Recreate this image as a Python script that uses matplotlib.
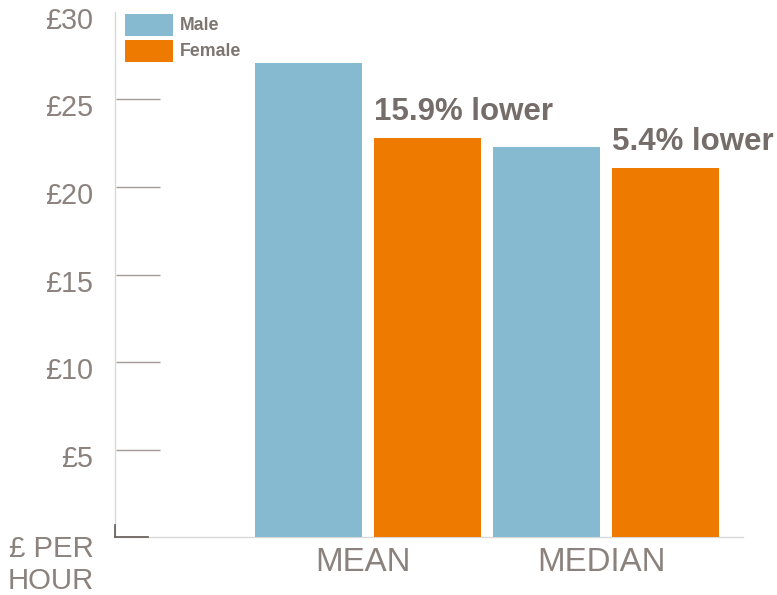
import matplotlib
matplotlib.use("Agg")
import matplotlib.pyplot as plt
from matplotlib.transforms import offset_copy
from matplotlib.patches import Rectangle

plt.rcParams['font.family'] = ['Liberation Sans', 'DejaVu Sans']

# Hourly pay data
categories = ["MEAN", "MEDIAN"]
series_names = ["Male", "Female"]
male_pay = [27.1, 22.3]
female_pay = [22.8, 21.1]
gap_labels = ["15.9% lower", "5.4% lower"]
y_ticks = [5, 10, 15, 20, 25, 30]
y_tick_labels = ["£5", "£10", "£15", "£20", "£25", "£30"]
unit_label = "£ PER\nHOUR"

MALE_COLOR = "#85BAD0"
FEMALE_COLOR = "#EF7A00"
TEXT_GRAY = "#8b827d"
DARK_GRAY = "#756d69"

W, H = 777, 595
fig = plt.figure(figsize=(W / 100, H / 100), dpi=100)
ax = fig.add_axes([115 / W, (H - 537.3) / H, (743 - 115) / W, (537.3 - 11.7) / H])

group_x = list(range(len(categories)))
bar_w = 0.4496
offset = 0.25
male_x = [g - offset for g in group_x]
female_x = [g + offset for g in group_x]

ax.bar(male_x, male_pay, width=bar_w, color=MALE_COLOR, label=series_names[0], zorder=3)
ax.bar(female_x, female_pay, width=bar_w, color=FEMALE_COLOR, label=series_names[1], zorder=3)

ax.set_xlim(-1.063, 1.576)
ax.set_ylim(0, 30)

# spines
for s in ["top", "right"]:
    ax.spines[s].set_visible(False)
ax.spines["left"].set_color("#d9d9d9")
ax.spines["bottom"].set_color("#d9d9d9")
ax.spines["left"].set_linewidth(1.0)
ax.spines["bottom"].set_linewidth(1.0)

ax.set_xticks([])
ax.set_yticks([])

# short gridline stubs inside the axis
yax = ax.get_yaxis_transform()
for t in y_ticks[:-1]:
    ax.plot([0.002, 0.0717], [t, t], color="#a39a95", lw=1.0, transform=yax, zorder=2,
            solid_capstyle="butt")
# darker corner at zero
ax.plot([0.0, 0.053], [0, 0], color="#6e6560", lw=1.3, transform=yax, zorder=4, clip_on=False)
ax.plot([0.0, 0.0], [0, 0.7], color="#6e6560", lw=1.3, transform=yax, zorder=4, clip_on=False)

# y tick labels, sitting slightly below their values
lbl_tr = offset_copy(yax, fig=fig, x=-22, y=-9, units="dots")
for t, lab in zip(y_ticks, y_tick_labels):
    ax.text(0, t, lab, transform=lbl_tr, ha="right", va="center",
            fontsize=20.7, color=TEXT_GRAY, clip_on=False)

# unit label
fig.text(94 / W, 1 - 565 / H, unit_label, ha="right", va="center", multialignment="right",
         fontsize=21.2, color=TEXT_GRAY, linespacing=1.15)

# category labels
xax = ax.get_xaxis_transform()
cat_tr = offset_copy(xax, fig=fig, x=0, y=-25, units="dots")
for g, c in zip(group_x, categories):
    ax.text(g - 0.02, 0, c, transform=cat_tr, ha="center", va="center",
            fontsize=23.8, color=TEXT_GRAY, clip_on=False)

# gap annotations above female bars
for x, v, lab in zip(female_x, female_pay, gap_labels):
    ax.annotate(lab, xy=(x - bar_w / 2, v), xytext=(0, 13), textcoords="offset points",
                ha="left", va="baseline", fontsize=22.5, fontweight="bold",
                color=DARK_GRAY, annotation_clip=False)

# legend: colour swatches with bold labels
legend_colors = [MALE_COLOR, FEMALE_COLOR]
for i, (name, col) in enumerate(zip(series_names, legend_colors)):
    top = 14 + 26 * i
    fig.patches.append(Rectangle((125 / W, 1 - (top + 22) / H), 48 / W, 22 / H,
                                 transform=fig.transFigure, facecolor=col, edgecolor="none"))
    fig.text(180 / W, 1 - (top + 12) / H, name, ha="left", va="center",
             fontsize=12.8, fontweight="bold", color="#7d7571")

fig.savefig("out.png", dpi=100)
